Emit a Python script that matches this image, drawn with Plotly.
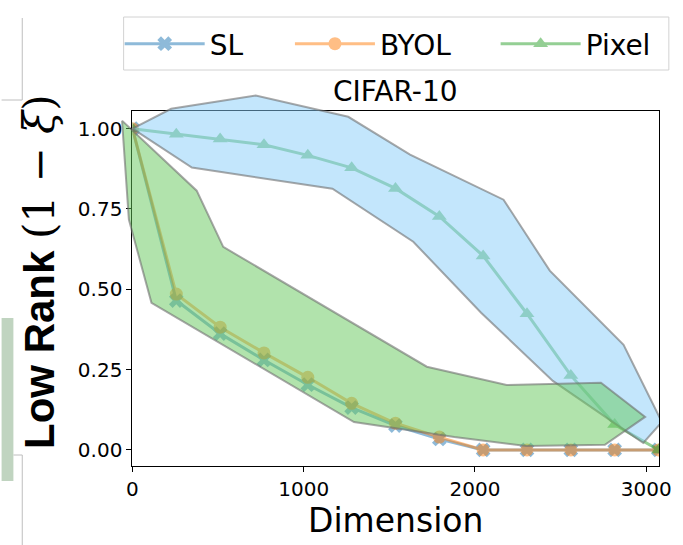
import plotly.graph_objects as go

# ---- data -------------------------------------------------------------
dims = [0, 256, 512, 768, 1024, 1280, 1536, 1792, 2048, 2304, 2560, 2816, 3072]
sl_rank = [1.00, 0.465, 0.362, 0.280, 0.203, 0.132, 0.076, 0.034, 0.0, 0.0, 0.0, 0.0, 0.0]
byol_rank = [1.00, 0.485, 0.382, 0.302, 0.226, 0.145, 0.083, 0.040, 0.0, 0.0, 0.0, 0.0, 0.0]
pixel_rank = [1.00, 0.983, 0.968, 0.950, 0.917, 0.878, 0.814, 0.727, 0.604, 0.424, 0.232, 0.079, 0.0]

series_names = ["SL", "BYOL", "Pixel"]

# shaded envelopes (polygon vertices in data units)
blue_region_x = [0, 226, 720, 1260, 1621, 2167, 2437, 2868, 3092, 2983, 2455, 2036, 1640, 1168, 347]
blue_region_y = [1.0, 1.062, 1.103, 1.037, 0.919, 0.779, 0.558, 0.327, 0.087, 0.022, 0.215, 0.427, 0.648, 0.813, 0.879]
green_region_x = [-61, 8, 375, 530, 1719, 2185, 2736, 2994, 2759, 2300, 1880, 1294, 111, -21]
green_region_y = [1.025, 0.99, 0.807, 0.632, 0.259, 0.202, 0.209, 0.103, 0.016, 0.012, 0.040, 0.087, 0.458, 0.717]

x_ticks = [0, 1000, 2000, 3000]
y_ticks = [0.0, 0.25, 0.5, 0.75, 1.0]

# ---- geometry ---------------------------------------------------------
W, H = 683, 545
M_L, M_R, M_T, M_B = 100, 15, 90, 79
AX_L, AX_R, AX_T, AX_B = 133, 668, 111, 466
X_RANGE = [0, 3075]
Y_RANGE = [-0.05, 1.055]

pw = W - M_L - M_R
ph = H - M_T - M_B
x_dom = [(AX_L - M_L) / pw, (AX_R - M_L) / pw]
y_dom = [(H - M_B - AX_B) / ph, (H - M_B - AX_T) / ph]

# a second, larger coordinate frame with the same scale, so the
# envelopes can spill slightly past the axes box
ux = (X_RANGE[1] - X_RANGE[0]) / (AX_R - AX_L)
uy = (Y_RANGE[1] - Y_RANGE[0]) / (AX_B - AX_T)
x2_range = [X_RANGE[0] - (AX_L - M_L) * ux, X_RANGE[1] + (W - M_R - AX_R) * ux]
y2_range = [Y_RANGE[0] - (H - M_B - AX_B) * uy, Y_RANGE[1] + (AX_T - M_T) * uy]


def paper(px, py):
    return (px - M_L) / pw, (H - M_B - py) / ph


FONT = "DejaVu Sans"

fig = go.Figure()

styles = [
    ("#1f77b4", "x", sl_rank, "legend"),
    ("#ff7f0e", "circle", byol_rank, "legend2"),
    ("#2ca02c", "triangle-up", pixel_rank, "legend3"),
]
for name, (color, symbol, vals, leg) in zip(series_names, styles):
    fig.add_trace(go.Scatter(
        x=dims, y=vals, name=name, mode="lines+markers",
        line=dict(color=color, width=3),
        marker=dict(symbol=symbol, size=13, color=color),
        opacity=0.5, xaxis="x", yaxis="y", cliponaxis=True, legend=leg,
    ))

for rx, ry, fill in [
    (blue_region_x, blue_region_y, "rgba(135,206,250,0.5)"),
    (green_region_x, green_region_y, "rgba(100,200,90,0.5)"),
]:
    fig.add_trace(go.Scatter(
        x=rx + [rx[0]], y=ry + [ry[0]], mode="lines", fill="toself",
        fillcolor=fill, line=dict(color="rgba(110,110,110,0.6)", width=2),
        xaxis="x2", yaxis="y2", showlegend=False, hoverinfo="skip",
    ))

axis_common = dict(
    showline=True, mirror=True, linecolor="black", linewidth=1.2,
    ticks="outside", ticklen=5, tickwidth=1.2, tickcolor="black",
    showgrid=False, zeroline=False,
    tickfont=dict(family=FONT, size=20, color="black"),
)

annotations = [
    dict(text="CIFAR-10", xref="x domain", yref="y domain", x=0.5, y=1.0,
         xanchor="center", yanchor="bottom", yshift=1, showarrow=False,
         font=dict(family=FONT, size=28, color="black")),
    dict(text="Dimension", xref="x domain", yref="paper", x=0.5,
         y=paper(0, 520)[1], xanchor="center", yanchor="middle", showarrow=False,
         font=dict(family=FONT, size=33, color="black")),
    dict(text="<b>Low Rank</b> <span style='font-family:DejaVu Serif'>(1 − <i>ξ</i>)</span>",
         xref="paper", yref="paper", x=paper(38, 0)[0], y=paper(0, 271)[1],
         xanchor="center", yanchor="middle", textangle=-90, showarrow=False,
         font=dict(family="Liberation Sans", size=42, color="black")),
]

# thin frame remnants along the left border
c_line = "rgba(190,190,190,1)"
shapes = []
for (xa, ya, xb, yb) in [(21, 18, 21, 100), (0, 100, 21, 100), (21, 455, 21, 545), (12, 455, 21, 455)]:
    p0, p1 = paper(xa, ya), paper(xb, yb)
    shapes.append(dict(type="line", xref="paper", yref="paper", x0=p0[0], y0=p0[1],
                       x1=p1[0], y1=p1[1], line=dict(color=c_line, width=1)))
r0, r1 = paper(0, 318), paper(12, 481)
shapes.append(dict(type="rect", xref="paper", yref="paper", x0=r0[0], y0=r0[1],
                   x1=r1[0], y1=r1[1], line=dict(width=0), fillcolor="rgb(192,212,192)"))

# legend frame shared by the three legend entries
f0, f1 = paper(124, 17), paper(678, 70)
shapes.append(dict(type="rect", xref="paper", yref="paper", x0=f0[0], y0=f0[1],
                   x1=f1[0], y1=f1[1], line=dict(color="rgb(210,210,210)", width=1),
                   fillcolor="rgba(255,255,255,0.8)"))

legend_style = dict(orientation="h", xanchor="left", yanchor="middle",
                    itemwidth=80, bgcolor="rgba(0,0,0,0)", borderwidth=0,
                    font=dict(family=FONT, size=28, color="black"))
leg_y = paper(0, 44)[1]

fig.update_layout(
    width=W, height=H,
    margin=dict(l=M_L, r=M_R, t=M_T, b=M_B),
    paper_bgcolor="white", plot_bgcolor="rgba(0,0,0,0)",
    xaxis=dict(domain=x_dom, range=X_RANGE, anchor="y", tickvals=x_ticks, **axis_common),
    yaxis=dict(domain=y_dom, range=Y_RANGE, anchor="x", tickvals=y_ticks,
               tickformat=".2f", **axis_common),
    xaxis2=dict(domain=[0, 1], range=x2_range, anchor="y2", visible=False),
    yaxis2=dict(domain=[0, 1], range=y2_range, anchor="x2", visible=False),
    showlegend=True,
    legend=dict(x=paper(120, 0)[0], y=leg_y, **legend_style),
    legend2=dict(x=paper(293, 0)[0], y=leg_y, **legend_style),
    legend3=dict(x=paper(502, 0)[0], y=leg_y, **legend_style),
    annotations=annotations,
    shapes=shapes,
)

fig.write_html("out.html")
